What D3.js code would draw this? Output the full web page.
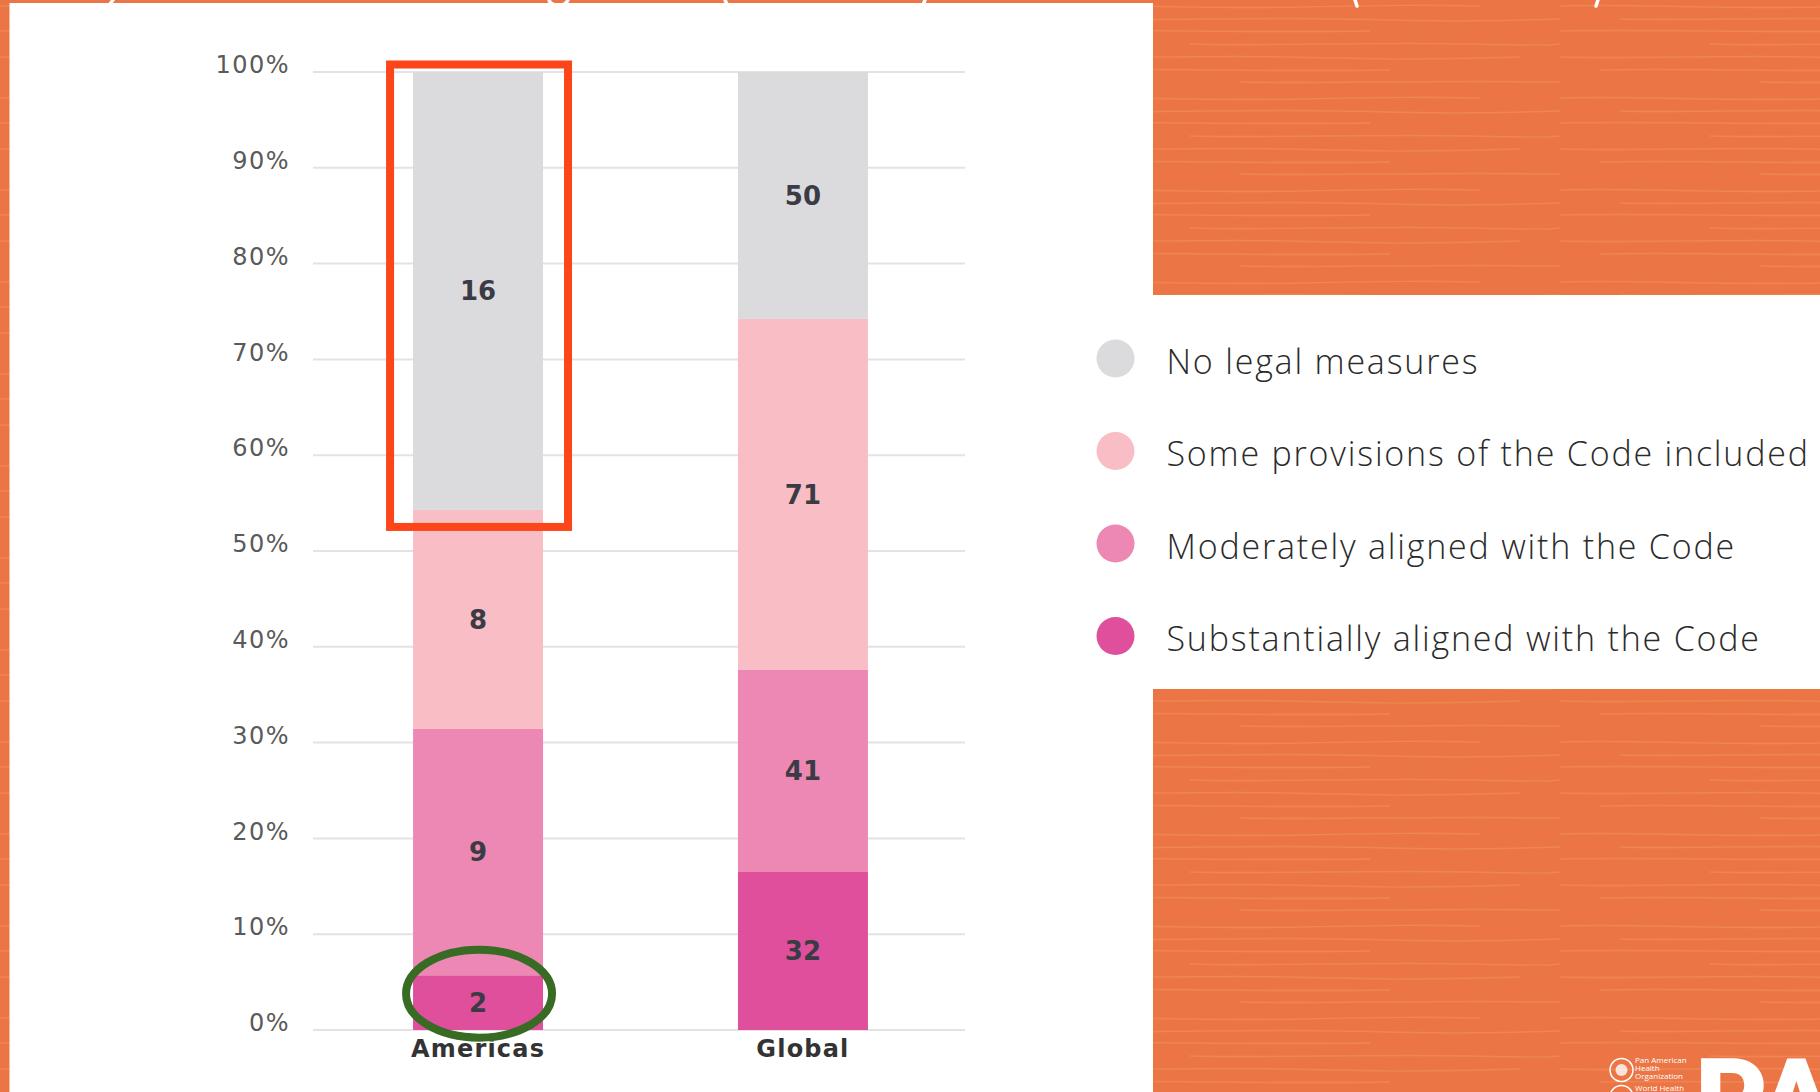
<!DOCTYPE html>
<html>
<head>
    <title>Legal measures on the Code</title>
    <script src="https://cdn.jsdelivr.net/npm/d3@7/dist/d3.min.js"></script>
    <style>
        body { margin: 0; background: #ec7545; }
        svg { display: block; }
        .tick-label { font-family: "DejaVu Sans"; font-size: 24px; fill: #5a5a5a; letter-spacing: 1.5px; }
        .value { font-family: "DejaVu Sans"; font-weight: bold; font-size: 26px; fill: #3b3b45; }
        .cat { font-family: "DejaVu Sans"; font-weight: bold; font-size: 24px; fill: #333; letter-spacing: 1.2px; }
        .legend text { font-family: "Open Sans"; font-weight: 300; font-size: 34px; fill: #2b2b2b; letter-spacing: 1.8px; }
    </style>
</head>
<body>
<svg width="1820" height="1092"></svg>
<script>
    // data (number of countries)
    const categories = ["Americas", "Global"];
    const substantially = [2, 32];
    const moderately = [9, 41];
    const someProvisions = [8, 71];
    const noLegal = [16, 50];
    const seriesKeys = ["Substantially aligned with the Code", "Moderately aligned with the Code",
        "Some provisions of the Code included", "No legal measures"];
    const seriesColors = ["#df4f9b", "#ed87b3", "#f9bdc6", "#dbdbdd"];
    const yTicks = [0, 0.1, 0.2, 0.3, 0.4, 0.5, 0.6, 0.7, 0.8, 0.9, 1];

    const rows = categories.map((c, i) => ({
        cat: c,
        [seriesKeys[0]]: substantially[i],
        [seriesKeys[1]]: moderately[i],
        [seriesKeys[2]]: someProvisions[i],
        [seriesKeys[3]]: noLegal[i]
    }));

    const svg = d3.select("svg");

    // orange textured background
    const defs = svg.append("defs");
    const pat = defs.append("pattern").attr("id", "wood")
        .attr("patternUnits", "userSpaceOnUse").attr("width", 520).attr("height", 92);
    pat.append("rect").attr("width", 520).attr("height", 92).attr("fill", "#ec7545");
    const grain = [
        "M0,6 C80,4 160,9 260,7 S380,5 440,6",
        "M60,19 C120,21 210,17 300,19 S420,22 520,19",
        "M0,31 C90,29 200,33 330,31",
        "M150,44 C230,46 330,42 430,44 S500,45 520,44",
        "M0,57 C70,59 170,55 250,57 S370,60 480,57",
        "M40,70 C120,68 230,72 350,70",
        "M200,82 C280,84 380,80 520,82"
    ];
    pat.selectAll("path").data(grain).enter().append("path")
        .attr("d", d => d).attr("fill", "none")
        .attr("stroke", "#f39a5c").attr("stroke-width", 1.5).attr("opacity", 0.45);
    svg.append("rect").attr("width", 1820).attr("height", 1092).attr("fill", "url(#wood)");

    // white panels
    svg.append("rect").attr("x", 9.5).attr("y", 3).attr("width", 1143.5).attr("height", 1089).attr("fill", "#fff");
    svg.append("rect").attr("x", 1152).attr("y", 295).attr("width", 668).attr("height", 394).attr("fill", "#fff");

    // bits of the cut-off title at the top edge
    const titleBits = [
        "M113,0 L110,4", "M549,0 C551,7 565,7 568,0", "M725,0 L727,4", "M925,0 L923,5",
        "M1355,0 L1357,6", "M1598,0 L1596,6"
    ];
    svg.selectAll(".tbit").data(titleBits).enter().append("path").attr("class", "tbit")
        .attr("d", d => d).attr("fill", "none").attr("stroke", "#fff").attr("stroke-width", 3.5)
        .attr("stroke-linecap", "round");

    const x = d3.scaleBand().domain(categories).range([313, 968]).paddingInner(0.6).paddingOuter(0.308);
    const y = d3.scaleLinear().domain([0, 1]).range([1030, 72]);

    // gridlines + tick labels
    const g = svg.append("g");
    g.selectAll(".grid").data(yTicks).enter().append("line")
        .attr("x1", 313).attr("x2", 965)
        .attr("y1", d => y(d)).attr("y2", d => y(d))
        .attr("stroke", "#e3e3e3").attr("stroke-width", 2);
    g.selectAll(".tick-label").data(yTicks).enter().append("text")
        .attr("class", "tick-label")
        .attr("x", 290).attr("y", d => y(d)).attr("dy", "0.05em")
        .attr("text-anchor", "end")
        .text(d3.format(".0%"));

    // stacked bars (share of countries)
    const stack = d3.stack().keys(seriesKeys).offset(d3.stackOffsetExpand);
    const series = stack(rows);
    const layers = g.selectAll(".layer").data(series).enter().append("g")
        .attr("fill", (d, i) => seriesColors[i]);
    layers.selectAll("rect").data(d => d).enter().append("rect")
        .attr("x", d => x(d.data.cat))
        .attr("width", x.bandwidth())
        .attr("y", d => y(d[1]))
        .attr("height", d => y(d[0]) - y(d[1]));

    layers.each(function(s) {
        d3.select(this).selectAll("text").data(s).enter().append("text")
            .attr("class", "value")
            .attr("x", d => x(d.data.cat) + x.bandwidth() / 2)
            .attr("y", d => (y(d[0]) + y(d[1])) / 2)
            .attr("dy", "0.36em")
            .attr("text-anchor", "middle")
            .text(d => d.data[s.key]);
    });

    g.selectAll(".cat").data(categories).enter().append("text")
        .attr("class", "cat")
        .attr("x", d => x(d) + x.bandwidth() / 2)
        .attr("y", 1057)
        .attr("text-anchor", "middle")
        .text(d => d);

    // annotations
    const am = categories[0];
    const topSeg = series[3][0];
    svg.append("rect")
        .attr("x", x(am) - 23).attr("y", y(topSeg[1]) - 7.5)
        .attr("width", x.bandwidth() + 48)
        .attr("height", y(topSeg[0]) + 17 - (y(topSeg[1]) - 7.5))
        .attr("fill", "none").attr("stroke", "#fc4519").attr("stroke-width", 8);
    const lowSeg = series[0][0];
    svg.append("ellipse")
        .attr("cx", x(am) + x.bandwidth() / 2 + 1)
        .attr("cy", (y(lowSeg[0]) + y(lowSeg[1])) / 2 - 9)
        .attr("rx", 73).attr("ry", 44)
        .attr("fill", "none").attr("stroke", "#386b23").attr("stroke-width", 8);

    // legend
    const legendOrder = [3, 2, 1, 0];
    const legend = svg.append("g").attr("class", "legend");
    const li = legend.selectAll("g").data(legendOrder).enter().append("g")
        .attr("transform", (d, i) => `translate(1115.5,${358.5 + i * 92.5})`);
    li.append("circle").attr("r", 19).attr("fill", d => seriesColors[d]);
    li.append("text").attr("x", 51).attr("y", 15).text(d => seriesKeys[d]);

    // PAHO mark, bottom right
    const logo = svg.append("g").attr("fill", "#fff");
    logo.append("circle").attr("cx", 1621.5).attr("cy", 1070).attr("r", 11.5)
        .attr("fill", "none").attr("stroke", "#fff").attr("stroke-width", 1.5);
    logo.append("circle").attr("cx", 1621.5).attr("cy", 1070).attr("r", 6).attr("opacity", 0.8);
    logo.append("circle").attr("cx", 1621.5).attr("cy", 1097).attr("r", 11.5)
        .attr("fill", "none").attr("stroke", "#fff").attr("stroke-width", 1.5);
    ["Pan American", "Health", "Organization"].forEach((t, i) => {
        logo.append("text").attr("x", 1635).attr("y", 1063 + i * 8)
            .attr("font-family", "Open Sans").attr("font-size", 8).text(t);
    });
    logo.append("text").attr("x", 1635).attr("y", 1091)
        .attr("font-family", "Open Sans").attr("font-size", 8).text("World Health");
    logo.append("text").attr("x", 1695).attr("y", 1138)
        .attr("font-family", "Roboto").attr("font-weight", 900).attr("font-size", 112)
        .text("PA");
</script>
</body>
</html>
